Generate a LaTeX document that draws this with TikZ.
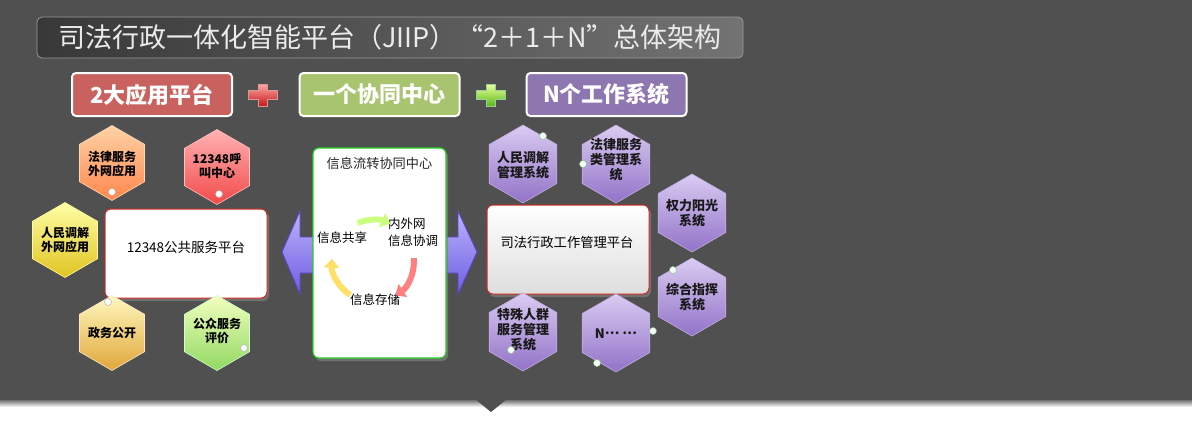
\documentclass[tikz,border=0pt]{standalone}
\usepackage{fontspec}
\setmainfont{Noto Sans CJK SC}
\usetikzlibrary{shapes.geometric,shadows,arrows.meta,calc}
\definecolor{bggray}{HTML}{505050}
\definecolor{btnred}{HTML}{C9625E}
\definecolor{btngreen}{HTML}{A9C46E}
\definecolor{btnpurple}{HTML}{8E76B0}
\definecolor{boxred}{HTML}{D42A20}
\definecolor{boxgreen}{HTML}{22D022}
\definecolor{arrtop}{HTML}{BCB2FA}
\definecolor{arrbot}{HTML}{6E5EE4}
\definecolor{arredge}{HTML}{5546D0}
\definecolor{hexptop}{HTML}{DACCF2}
\definecolor{hexpbot}{HTML}{9272C8}
\definecolor{hexpedge}{HTML}{C0AEE0}
\begin{document}
\begin{tikzpicture}[x=1pt,y=-1pt,
  btn/.style={rounded corners=4pt, draw=white, line width=2pt, minimum width=160pt, minimum height=43pt,
    font=\fontsize{22}{24}\selectfont\bfseries, text=white, inner sep=0pt},
  mainbox/.style={rounded corners=6pt, draw=boxred, line width=1pt, minimum width=162pt, minimum height=89pt,
    drop shadow={shadow xshift=2pt, shadow yshift=-3pt, opacity=0.7}},
  hexL/.style={regular polygon, regular polygon sides=6, shape border rotate=30, minimum size=75pt, inner sep=0pt, line width=0.6pt},
  hexR/.style={regular polygon, regular polygon sides=6, shape border rotate=30, minimum size=78pt, inner sep=0pt,
    top color=hexptop, bottom color=hexpbot, draw=hexpedge, line width=0.6pt},
  hextxtL/.style={align=center, font=\fontsize{12}{14}\selectfont\bfseries, text=black, inner sep=0pt},
  hextxtR/.style={align=center, font=\fontsize{13}{15}\selectfont\bfseries, text=black!90, inner sep=0pt},
  dotL/.style={circle, minimum size=7pt, inner sep=0pt, fill=white, draw=gray!60, line width=0.5pt},
  dotR/.style={circle, minimum size=7pt, inner sep=0pt, fill=green!4!white, draw=green!30!gray!70, line width=0.5pt},
  cyctxt/.style={font=\fontsize{12.5}{17}\selectfont, text=black, inner sep=0pt},
  cycarrow/.style={line width=6pt, -{Triangle[width=15pt,length=9pt]}}
]
\useasboundingbox (0,0) rectangle (1192,423);
% background
\fill[bggray] (0,0) rectangle (1192,400);
\shade[top color=black!55, bottom color=white] (0,400) rectangle (1192,407);
\fill[bggray] (475,399) -- (507,399) -- (491,412) -- cycle;

% title bar
\node[rounded corners=5pt, minimum width=706pt, minimum height=41pt, left color=black!78, right color=black!55,
  draw=black!40, line width=0.8pt, text=white!92!black, font=\fontsize{27}{29}\selectfont, inner sep=0pt]
  (title) at (390,37.5) {司法行政一体化智能平台（JIIP）“2＋1＋N”总体架构};

% top buttons
\node[btn, fill=btnred] (b1) at (152,94.5) {2大应用平台};
\node[btn, fill=btngreen] (b2) at (379.5,94.5) {一个协同中心};
\node[btn, fill=btnpurple] (b3) at (606.5,94.5) {N个工作系统};
% plus signs
\shade[top color=red!35!white, bottom color=red!75!black!90, draw=red!60!black!40, line width=0.3pt]
  (258,84) -- (267,84) -- (267,90.5) -- (277,90.5) -- (277,99.5) -- (267,99.5) -- (267,106) -- (258,106)
  -- (258,99.5) -- (248,99.5) -- (248,90.5) -- (258,90.5) -- cycle;
\shade[top color=green!20!yellow!40!white, bottom color=green!60!yellow!70!black!90, draw=green!50!black!40, line width=0.3pt]
  (486,84) -- (495,84) -- (495,90.5) -- (505,90.5) -- (505,99.5) -- (495,99.5) -- (495,106) -- (486,106)
  -- (486,99.5) -- (476,99.5) -- (476,90.5) -- (486,90.5) -- cycle;

% double arrow behind center box
\shade[top color=arrtop, bottom color=arrbot, draw=arredge, line width=0.8pt]
  (282,252) -- (300,211) -- (300,237) -- (458,237) -- (458,211) -- (477,252) -- (458,294) -- (458,273)
  -- (300,273) -- (300,294) -- cycle;

% main boxes
\node[mainbox, fill=white] (lb) at (186,253.5) {};
\node[font=\fontsize{13.5}{16}\selectfont, text=black, inner sep=0pt] (lbt) at (186,247) {12348公共服务平台};
\node[mainbox, top color=white, bottom color=black!13] (rb) at (568,249.5) {};
\node[font=\fontsize{13.3}{16}\selectfont, text=black, inner sep=0pt] (rbt) at (567,242) {司法行政工作管理平台};

% center box
\node[rounded corners=6pt, draw=boxgreen, line width=1.2pt, fill=white, minimum width=133pt, minimum height=210pt,
  drop shadow={shadow xshift=2pt, shadow yshift=-3pt, opacity=0.7}] (cb) at (379.5,253) {};
\node[font=\fontsize{13.2}{16}\selectfont, text=black!85, inner sep=0pt] (cbt) at (379.5,163) {信息流转协同中心};
\node[cyctxt] (share) at (342,238) {信息共享};
\node[cyctxt, anchor=west, align=left] (coord) at (388,232) {内外网\\信息协调};
\node[cyctxt] (store) at (375,300) {信息存储};
\coordinate (cyc) at (373,261);
\coordinate (g1) at ($(cyc)+(-112:41)$);
\coordinate (r1) at ($(cyc)+(-4:41)$);
\coordinate (y1) at ($(cyc)+(124:41)$);
\draw[cycarrow, color=green!40!yellow!50!white] (g1) arc[start angle=-112, end angle=-65, radius=41];
\draw[cycarrow, color=red!50!white] (r1) arc[start angle=-4, end angle=57, radius=41];
\draw[cycarrow, color=orange!40!yellow!60!white] (y1) arc[start angle=124, end angle=183, radius=41];

% left hexagons
\node[hexL, top color=orange!35!white, bottom color=orange!65!red!70!white, draw=orange!30!white] (h1) at (112,163) {};
\node[hextxtL] (h1t) at (112,164) {法律服务\\外网应用};
\node[hexL, top color=red!30!white, bottom color=red!70!white!95!black, draw=red!25!white] (h2) at (217,167) {};
\node[hextxtL] (h2t) at (217,166) {12348呼\\叫中心};
\node[hexL, top color=yellow!35!white, bottom color=yellow!70!orange!85!white!88!black, draw=yellow!40!white] (h3) at (65,240) {};
\node[hextxtL] (h3t) at (65,240) {人民调解\\外网应用};
\node[hexL, top color=orange!20!yellow!25!white, bottom color=orange!70!yellow!75!white!88!black, draw=orange!20!white] (h4) at (112,333) {};
\node[hextxtL] (h4t) at (112,333) {政务公开};
\node[hexL, top color=green!20!yellow!25!white, bottom color=green!60!yellow!55!white!85!black, draw=green!20!white] (h5) at (217,333) {};
\node[hextxtL] (h5t) at (217,331) {公众服务\\评价};
\node[dotL] (d1) at (112,192) {};
\node[dotL] (d2) at (219,194) {};
\node[dotL] (d3) at (108,302) {};
\node[dotL] (d4) at (244,348) {};

% right hexagons
\node[hexR] (r1h) at (523,164) {};
\node[hextxtR] (r1t) at (523,165) {人民调解\\管理系统};
\node[hexR] (r2h) at (616,164) {};
\node[hextxtR] (r2t) at (616,160) {法律服务\\类管理系\\统};
\node[hexR] (r3h) at (692,213) {};
\node[hextxtR] (r3t) at (692,213) {权力阳光\\系统};
\node[hexR] (r4h) at (692,297) {};
\node[hextxtR] (r4t) at (692,297) {综合指挥\\系统};
\node[hexR] (r5h) at (523,332) {};
\node[hextxtR] (r5t) at (523,330) {特殊人群\\服务管理\\系统};
\node[hexR] (r6h) at (616,333) {};
\node[hextxtR] (r6t) at (616,334) {N\raisebox{0.3em}{…}\ \raisebox{0.3em}{…}};
\node[dotR] (e1) at (543,136) {};
\node[dotR] (e2) at (583,164) {};
\node[dotR] (e3) at (673,270) {};
\node[dotR] (e4) at (511,350) {};
\node[dotR] (e5) at (597,363) {};
\node[dotR] (e6) at (653,331) {};
\end{tikzpicture}
\end{document}
